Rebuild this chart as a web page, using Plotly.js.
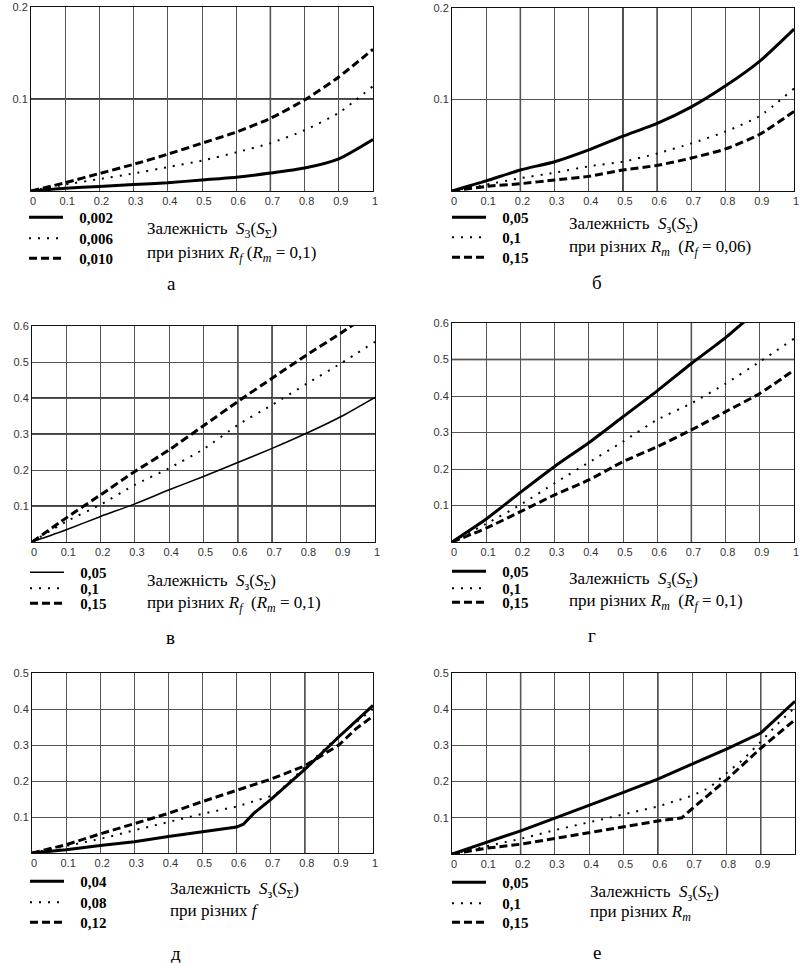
<!DOCTYPE html>
<html>
<head>
<meta charset="utf-8">
<script src="https://cdn.plot.ly/plotly-3.0.1.min.js"></script>
<style>html,body{margin:0;padding:0;background:#fff;}#chart{width:800px;height:963px;}</style>
</head>
<body>
<div id="chart"></div>
<script>
// ---------- data ----------
const X = [0, 0.1, 0.2, 0.3, 0.4, 0.5, 0.6, 0.7, 0.8, 0.9, 1.0];
const xTickVals = [0, 0.1, 0.2, 0.3, 0.4, 0.5, 0.6, 0.7, 0.8, 0.9, 1];
const xTickText = ['0', '0.1', '0.2', '0.3', '0.4', '0.5', '0.6', '0.7', '0.8', '0.9', '1'];

// panel а : different Rf (Rm = 0,1)
const a_names = ['0,002', '0,006', '0,010'];
const a_solid = [0, 0.003, 0.005, 0.007, 0.009, 0.012, 0.015, 0.0195, 0.025, 0.035, 0.056];
const a_dot   = [0, 0.007, 0.013, 0.019, 0.026, 0.033, 0.042, 0.052, 0.066, 0.085, 0.114];
const a_dash  = [0, 0.009, 0.019, 0.029, 0.040, 0.052, 0.064, 0.079, 0.099, 0.124, 0.154];

// panel б : different Rm (Rf = 0,06)
const b_names = ['0,05', '0,1', '0,15'];
const b_solid = [0, 0.011, 0.023, 0.032, 0.045, 0.060, 0.074, 0.092, 0.115, 0.142, 0.177];
const b_dot   = [0, 0.007, 0.014, 0.020, 0.027, 0.032, 0.041, 0.052, 0.065, 0.082, 0.112];
const b_dash  = [0, 0.005, 0.008, 0.012, 0.016, 0.023, 0.028, 0.036, 0.046, 0.062, 0.087];

// panel в : different Rf (Rm = 0,1)
const c_names = ['0,05', '0,1', '0,15'];
const c_solid = [0, 0.034, 0.071, 0.106, 0.145, 0.182, 0.221, 0.260, 0.302, 0.348, 0.402];
const c_dot   = [0, 0.057, 0.104, 0.159, 0.205, 0.258, 0.325, 0.381, 0.439, 0.496, 0.556];
const c_dash  = [0, 0.067, 0.131, 0.196, 0.256, 0.323, 0.390, 0.455, 0.519, 0.580, 0.645];

// panel г : different Rm (Rf = 0,1)
const d_names = ['0,05', '0,1', '0,15'];
const d_solid = [0, 0.063, 0.136, 0.207, 0.272, 0.343, 0.414, 0.489, 0.560, 0.640, 0.715];
const d_dot   = [0, 0.050, 0.102, 0.161, 0.218, 0.275, 0.335, 0.380, 0.434, 0.494, 0.557];
const d_dash  = [0, 0.038, 0.083, 0.129, 0.170, 0.220, 0.261, 0.307, 0.357, 0.407, 0.471];

// panel д : different f
const e_names = ['0,04', '0,08', '0,12'];
const e_solid_x = [0, 0.1, 0.2, 0.3, 0.4, 0.5, 0.6, 0.62, 0.65, 0.7, 0.8, 0.9, 1.0];
const e_solid   = [0, 0.009, 0.021, 0.031, 0.046, 0.060, 0.072, 0.080, 0.110, 0.148, 0.232, 0.323, 0.410];
const e_dot_x   = [0, 0.1, 0.2, 0.3, 0.4, 0.5, 0.6, 0.7, 0.72, 0.8, 0.9, 1.0];
const e_dot     = [0, 0.020, 0.039, 0.063, 0.086, 0.109, 0.129, 0.158, 0.168, 0.238, 0.325, 0.400];
const e_dash_x  = [0, 0.1, 0.2, 0.3, 0.4, 0.5, 0.6, 0.7, 0.8, 0.85, 0.9, 0.95, 1.0];
const e_dash    = [0, 0.023, 0.053, 0.082, 0.110, 0.143, 0.173, 0.205, 0.242, 0.270, 0.300, 0.345, 0.380];

// panel е : different Rm
const f_names = ['0,05', '0,1', '0,15'];
const f_solid_x = [0, 0.1, 0.2, 0.3, 0.4, 0.5, 0.6, 0.7, 0.8, 0.9, 1.0];
const f_solid   = [0, 0.031, 0.064, 0.099, 0.134, 0.170, 0.207, 0.248, 0.290, 0.334, 0.422];
const f_dot_x   = [0, 0.1, 0.2, 0.3, 0.4, 0.5, 0.6, 0.7, 0.75, 0.8, 0.85, 0.9, 0.95, 1.0];
const f_dot     = [0, 0.020, 0.042, 0.066, 0.087, 0.108, 0.131, 0.161, 0.183, 0.223, 0.262, 0.310, 0.360, 0.405];
const f_dash_x  = [0, 0.1, 0.2, 0.3, 0.4, 0.5, 0.6, 0.67, 0.7, 0.8, 0.9, 1.0];
const f_dash    = [0, 0.016, 0.027, 0.043, 0.057, 0.073, 0.091, 0.100, 0.125, 0.205, 0.292, 0.371];

// ---------- styles ----------
const W = 800, H = 963;
const SOLID = {color: '#000', width: 3, dash: 'solid'};
const SOLID_THIN = {color: '#000', width: 1.5, dash: 'solid'};
const DOT = {color: '#000', width: 2, dash: '2px,7px'};
const DASH = {color: '#000', width: 3, dash: '8px,4px'};
const SERIF = 'Liberation Serif';
const SANS = 'Liberation Sans';

let legendCount = 0;
function legKey(k) { return k === 0 ? 'legend' : 'legend' + (k + 1); }
function tr(x, y, name, line, ax, shape) {
  const leg = legKey(legendCount++);
  return {x: x, y: y, name: '\u00a0\u00a0\u00a0' + name, type: 'scatter', mode: 'lines',
    line: Object.assign({shape: shape || 'spline', smoothing: 0.6}, line),
    xaxis: 'x' + (ax === 1 ? '' : ax), yaxis: 'y' + (ax === 1 ? '' : ax),
    legend: leg, showlegend: true, hoverinfo: 'skip'};
}

const traces = [
  tr(X, a_solid, a_names[0], SOLID, 1),
  tr(X, a_dot, a_names[1], DOT, 1),
  tr(X, a_dash, a_names[2], DASH, 1),
  tr(X, b_solid, b_names[0], SOLID, 2),
  tr(X, b_dot, b_names[1], DOT, 2),
  tr(X, b_dash, b_names[2], DASH, 2),
  tr(X, c_solid, c_names[0], SOLID_THIN, 3),
  tr(X, c_dot, c_names[1], DOT, 3),
  tr(X, c_dash, c_names[2], DASH, 3),
  tr(X, d_solid, d_names[0], SOLID, 4),
  tr(X, d_dot, d_names[1], DOT, 4),
  tr(X, d_dash, d_names[2], DASH, 4),
  tr(e_solid_x, e_solid, e_names[0], SOLID, 5, 'linear'),
  tr(e_dot_x, e_dot, e_names[1], DOT, 5, 'linear'),
  tr(e_dash_x, e_dash, e_names[2], DASH, 5, 'linear'),
  tr(f_solid_x, f_solid, f_names[0], SOLID, 6, 'linear'),
  tr(f_dot_x, f_dot, f_names[1], DOT, 6, 'linear'),
  tr(f_dash_x, f_dash, f_names[2], DASH, 6, 'linear'),
];

// plot areas in pixels: [left, right, top, bottom]
const boxes = [
  [31, 373, 7, 191],
  [452, 794, 8, 191],
  [32, 375, 326, 542],
  [452, 794, 323, 542],
  [32, 373, 673, 853],
  [452, 795, 673, 854],
];
const yMax = [0.2, 0.2, 0.6, 0.6, 0.5, 0.5];
const yTicks = [[0.1, 0.2], [0.1, 0.2], [0.1,0.2,0.3,0.4,0.5,0.6], [0.1,0.2,0.3,0.4,0.5,0.6],
                [0.1,0.2,0.3,0.4,0.5], [0.1,0.2,0.3,0.4,0.5]];

const tickFont = {family: SANS, size: 11, color: '#333'};
const layout = {
  width: W, height: H, margin: {l: 0, r: 0, t: 0, b: 0},
  paper_bgcolor: '#fff', plot_bgcolor: '#fff',
  showlegend: true, annotations: [], shapes: []
};

boxes.forEach((b, i) => {
  const n = i === 0 ? '' : (i + 1);
  layout['xaxis' + n] = {
    domain: [b[0] / W, b[1] / W], range: [0, 1], anchor: 'y' + n,
    tickmode: 'array', tickvals: xTickVals, ticktext: xTickText, ticklabelshift: 2,
    showgrid: true, gridcolor: '#555', gridwidth: 1,
    showline: true, linecolor: '#111', linewidth: 1, mirror: true,
    zeroline: false, ticks: '', tickfont: tickFont, fixedrange: true
  };
  layout['yaxis' + n] = {
    domain: [1 - b[3] / H, 1 - b[2] / H], range: [0, yMax[i]], anchor: 'x' + n,
    tickmode: 'array', tickvals: yTicks[i], ticktext: yTicks[i].map(v => String(v)),
    showgrid: true, gridcolor: '#555', gridwidth: 1,
    showline: true, linecolor: '#111', linewidth: 1, mirror: true,
    zeroline: false, ticks: '', tickfont: tickFont, fixedrange: true
  };
});

// darker (black) grid lines as seen in the scanned figure
const darkV = [[0.7], [0.2, 0.5, 0.6], [0.6, 0.7], [0.7], [0.8], [0.2, 0.6, 0.9]];
const darkH = [[0.1], [], [0.1, 0.3, 0.4], [0.5], [], []];
darkV.forEach((arr, i) => {
  const n = i === 0 ? '' : (i + 1);
  arr.forEach(v => layout.shapes.push({type: 'line', xref: 'x' + n, yref: 'y' + n + ' domain',
    x0: v, x1: v, y0: 0, y1: 1, line: {color: '#000', width: 1.4}, layer: 'below'}));
});
darkH.forEach((arr, i) => {
  const n = i === 0 ? '' : (i + 1);
  arr.forEach(v => layout.shapes.push({type: 'line', xref: 'x' + n + ' domain', yref: 'y' + n,
    x0: 0, x1: 1, y0: v, y1: v, line: {color: '#000', width: 1.4}, layer: 'below'}));
});

// legend entries: [left px of the sample line, centre y px]
const legPos = [
  [29, 218], [29, 239], [29, 259],
  [452, 218], [452, 238], [452, 258],
  [30, 573], [30, 589], [30, 604],
  [452, 572], [452, 589], [452, 603],
  [30, 882], [30, 903], [30, 923],
  [452, 883], [452, 904], [452, 923],
];
const legFont = {family: SERIF, size: 15, color: '#000', weight: 'bold'};
legPos.forEach((p, k) => {
  layout[legKey(k)] = {x: (p[0] - 5) / W, y: 1 - (p[1] - 17) / H, xanchor: 'left', yanchor: 'top',
    xref: 'paper', yref: 'paper', bgcolor: 'rgba(0,0,0,0)', borderwidth: 0,
    font: legFont, itemwidth: 34, orientation: 'v'};
});

// text labels
const line1a = 'Залежність  <i>S</i><sub>3</sub>(<i>S</i><sub>Σ</sub>)';
const line1 = 'Залежність  <i>S</i><sub>з</sub>(<i>S</i><sub>Σ</sub>)';
const texts = [
  [145, 230, line1a], [145, 254, 'при різних <i>R</i><sub><i>f</i></sub> (<i>R</i><sub><i>m</i></sub> = 0,1)'],
  [567, 225, line1], [567, 248, 'при різних <i>R</i><sub><i>m</i></sub>  (<i>R</i><sub><i>f</i></sub> = 0,06)'],
  [145, 582, line1], [145, 604, 'при різних <i>R</i><sub><i>f</i></sub>  (<i>R</i><sub><i>m</i></sub> = 0,1)'],
  [567, 580, line1], [567, 602, 'при різних <i>R</i><sub><i>m</i></sub>  (<i>R</i><sub><i>f</i></sub> = 0,1)'],
  [168, 890, line1], [168, 910, 'при різних <i>f</i>'],
  [588, 893, line1], [588, 913, 'при різних <i>R</i><sub><i>m</i></sub>'],
];
texts.forEach(t => layout.annotations.push({xref: 'paper', yref: 'paper', x: t[0] / W, y: 1 - t[1] / H,
  xanchor: 'left', yanchor: 'middle', text: t[2], showarrow: false,
  font: {family: SERIF, size: 17, color: '#000'}}));

const captions = [[171, 283, 'а'], [597, 282, 'б'], [170, 637, 'в'], [592, 635, 'г'], [176, 953, 'д'], [597, 952, 'е']];
captions.forEach(c => layout.annotations.push({xref: 'paper', yref: 'paper', x: c[0] / W, y: 1 - c[1] / H,
  xanchor: 'center', yanchor: 'middle', text: c[2], showarrow: false,
  font: {family: SERIF, size: 19, color: '#000'}}));

Plotly.newPlot('chart', traces, layout, {staticPlot: true, displayModeBar: false});
</script>
</body>
</html>
